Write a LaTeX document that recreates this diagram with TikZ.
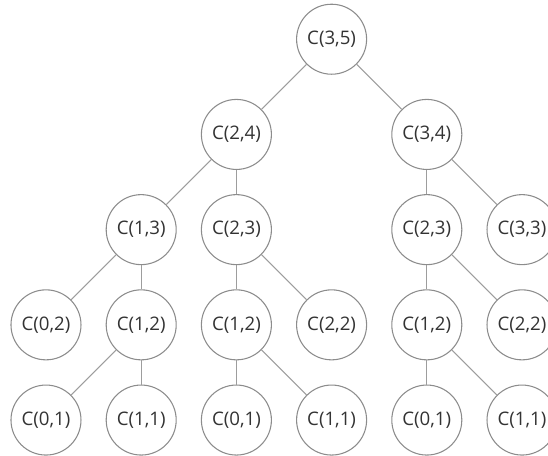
\documentclass[tikz,border=0pt]{standalone}
\usepackage{fontspec}
\setmainfont{Open Sans}
\usepackage{xcolor}
\usepackage{tikz}

\definecolor{ringgray}{HTML}{8C8C8C}
\definecolor{textgray}{HTML}{333333}

\begin{document}
\begin{tikzpicture}[x=71.4pt,y=71.4pt,line width=0.8pt,
    vertex/.style={circle,draw=ringgray,text=textgray,minimum size=52.5pt,inner sep=0pt,font=\fontsize{14}{17}\selectfont},
    link/.style={draw=ringgray!85}]
    \useasboundingbox (-0.483,-0.368) rectangle (5.273,4.412);

    \coordinate (A1) at (3, 4);

    \coordinate (B1) at (2, 3);
    \coordinate (B2) at (4, 3);

    \coordinate (D1) at (1, 2);
    \coordinate (D2) at (2, 2);
    \coordinate (D3) at (4, 2);
    \coordinate (D4) at (5, 2);

    \coordinate (E1) at (0, 1);
    \coordinate (E2) at (1, 1);
    \coordinate (E3) at (2, 1);
    \coordinate (E4) at (3, 1);
    \coordinate (E5) at (4, 1);
    \coordinate (E6) at (5, 1);

    \coordinate (F1) at (0, 0);
    \coordinate (F2) at (1, 0);
    \coordinate (F3) at (2, 0);
    \coordinate (F4) at (3, 0);
    \coordinate (F5) at (4, 0);
    \coordinate (F6) at (5, 0);

%nodes
    \node[vertex] (C35) at (A1) {C(3,5)};
    \node[vertex] (C24) at (B1) {C(2,4)};
    \node[vertex] (C34) at (B2) {C(3,4)};

    \node[vertex] (C13) at (D1) {C(1,3)};
    \node[vertex] (C23a) at (D2) {C(2,3)};
    \node[vertex] (C23b) at (D3) {C(2,3)};
    \node[vertex] (C33) at (D4) {C(3,3)};

    \node[vertex] (C02) at (E1) {C(0,2)};
    \node[vertex] (C12a) at (E2) {C(1,2)};
    \node[vertex] (C12b) at (E3) {C(1,2)};
    \node[vertex] (C22a) at (E4) {C(2,2)};
    \node[vertex] (C12c) at (E5) {C(1,2)};
    \node[vertex] (C22b) at (E6) {C(2,2)};

    \node[vertex] (C01a) at (F1) {C(0,1)};
    \node[vertex] (C11a) at (F2) {C(1,1)};
    \node[vertex] (C01b) at (F3) {C(0,1)};
    \node[vertex] (C11b) at (F4) {C(1,1)};
    \node[vertex] (C01c) at (F5) {C(0,1)};
    \node[vertex] (C11c) at (F6) {C(1,1)};

%edges
    \draw[link] (C35) -- (C24);
    \draw[link] (C35) -- (C34);

    \draw[link] (C24) -- (C13);
    \draw[link] (C24) -- (C23a);
    \draw[link] (C34) -- (C23b);
    \draw[link] (C34) -- (C33);

    \draw[link] (C13) -- (C02);
    \draw[link] (C13) -- (C12a);
    \draw[link] (C23a) -- (C12b);
    \draw[link] (C23a) -- (C22a);
    \draw[link] (C23b) -- (C12c);
    \draw[link] (C23b) -- (C22b);

    \draw[link] (C12a) -- (C01a);
    \draw[link] (C12a) -- (C11a);
    \draw[link] (C12b) -- (C01b);
    \draw[link] (C12b) -- (C11b);
    \draw[link] (C12c) -- (C01c);
    \draw[link] (C12c) -- (C11c);

\end{tikzpicture}
\end{document}
